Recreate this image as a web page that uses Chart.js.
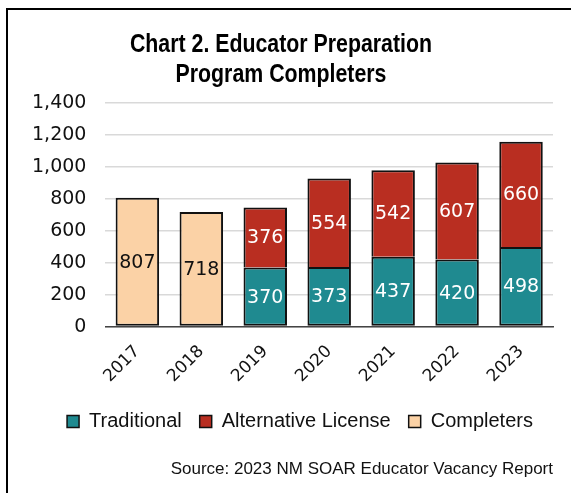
<!DOCTYPE html>
<html>
<head>
<meta charset="utf-8">
<script src="https://cdn.jsdelivr.net/npm/chart.js@4/dist/chart.umd.min.js"></script>
<style>
  body { margin: 0; background: #fff; }
  #wrap { position: relative; width: 571px; height: 493px; }
  #frame {
    position: absolute; left: 6px; top: 8px; right: -4px; bottom: -4px;
    border-left: 2px solid #000; border-top: 2px solid #000;
    pointer-events: none;
  }
  canvas { position: absolute; left: 0; top: 0; }
</style>
</head>
<body>
<div id="wrap">
  <canvas id="myChart" width="571" height="493"></canvas>
  <div id="frame"></div>
</div>
<script>
const years = ["2017", "2018", "2019", "2020", "2021", "2022", "2023"];
const traditional = [null, null, 370, 373, 437, 420, 498];
const alternative = [null, null, 376, 554, 542, 607, 660];
const completers = [807, 718, null, null, null, null, null];
const yTicks = [0, 200, 400, 600, 800, 1000, 1200, 1400];
const titleLines = ["Chart 2. Educator Preparation", "Program Completers"];

const numFont = "'DejaVu Sans', Verdana, sans-serif";
const textFont = "'Liberation Sans', Arial, sans-serif";

// labels in the middle of each bar piece
const barLabels = {
  id: "barLabels",
  afterDatasetsDraw(chart) {
    const ctx = chart.ctx;
    ctx.save();
    ctx.font = "19px " + numFont;
    ctx.textAlign = "center";
    ctx.textBaseline = "middle";
    chart.data.datasets.forEach((ds, i) => {
      const meta = chart.getDatasetMeta(i);
      meta.data.forEach((el, j) => {
        const v = ds.data[j];
        if (v == null) return;
        ctx.fillStyle = ds.labelColor;
        ctx.fillText(v, el.x, (el.y + el.base) / 2 + 1);
      });
    });
    ctx.restore();
  },
};

// narrow bold title (no condensed font installed, so squeeze it)
const narrowTitle = {
  id: "narrowTitle",
  afterDraw(chart) {
    const ctx = chart.ctx;
    ctx.save();
    ctx.font = "bold 26px " + textFont;
    ctx.fillStyle = "#000";
    ctx.textAlign = "center";
    ctx.textBaseline = "middle";
    ctx.translate(281, 0);
    ctx.scale(0.82, 1);
    ctx.fillText(titleLines[0], 0, 45);
    ctx.fillText(titleLines[1], 0, 75);
    ctx.restore();
  },
};

// legend sits a bit right of the page centre in the original
const legendShift = {
  id: "legendShift",
  afterLayout(chart) {
    chart.legend.left += 17;
    chart.legend.right += 17;
  },
};

const myChart = new Chart(document.getElementById("myChart"), {
  type: "bar",
  data: {
    labels: years,
    datasets: [
      {
        label: "Traditional",
        data: traditional,
        backgroundColor: "#1f8a90",
        borderColor: "#111",
        borderWidth: 2,
        borderSkipped: false,
        labelColor: "#fff",
      },
      {
        label: "Alternative License",
        data: alternative,
        backgroundColor: "#b92e21",
        borderColor: "#111",
        borderWidth: 2,
        borderSkipped: "bottom",
        labelColor: "#fff",
      },
      {
        label: "Completers",
        data: completers,
        backgroundColor: "#fbd2a6",
        borderColor: "#111",
        borderWidth: 2,
        borderSkipped: false,
        labelColor: "#111",
      },
    ],
  },
  options: {
    responsive: false,
    animation: false,
    datasets: {
      bar: { barPercentage: 0.68, categoryPercentage: 1 },
    },
    layout: { padding: { left: 13, right: 18, top: 103, bottom: 13 } },
    plugins: {
      title: { display: false },
      subtitle: {
        display: true,
        position: "bottom",
        align: "end",
        text: "Source: 2023 NM SOAR Educator Vacancy Report",
        color: "#111",
        font: { family: textFont, size: 17 },
        padding: { top: 18, bottom: 0 },
      },
      legend: {
        position: "bottom",
        labels: {
          color: "#111",
          font: { family: textFont, size: 20 },
          boxWidth: 12,
          boxHeight: 12,
          padding: 18,
          generateLabels(chart) {
            return chart.data.datasets.map((ds, i) => ({
              text: ds.label,
              fillStyle: ds.backgroundColor,
              strokeStyle: "#111",
              lineWidth: 1.5,
              datasetIndex: i,
              fontColor: "#111",
            }));
          },
        },
      },
      tooltip: { enabled: false },
    },
    scales: {
      x: {
        stacked: true,
        grid: { display: false },
        border: { color: "#444", width: 1.5 },
        ticks: {
          color: "#111",
          minRotation: 45,
          maxRotation: 45,
          padding: 7,
          font: { family: numFont, size: 17 },
        },
      },
      y: {
        stacked: true,
        min: 0,
        max: 1400,
        afterBuildTicks(axis) {
          axis.ticks = yTicks.map((v) => ({ value: v }));
        },
        grid: { color: "#d9d9d9", lineWidth: 1.5, drawTicks: false },
        border: { display: false },
        ticks: {
          color: "#111",
          padding: 19,
          font: { family: numFont, size: 19 },
          callback: (v) => v.toLocaleString("en-US"),
        },
      },
    },
  },
  plugins: [barLabels, narrowTitle, legendShift],
});
</script>
</body>
</html>
